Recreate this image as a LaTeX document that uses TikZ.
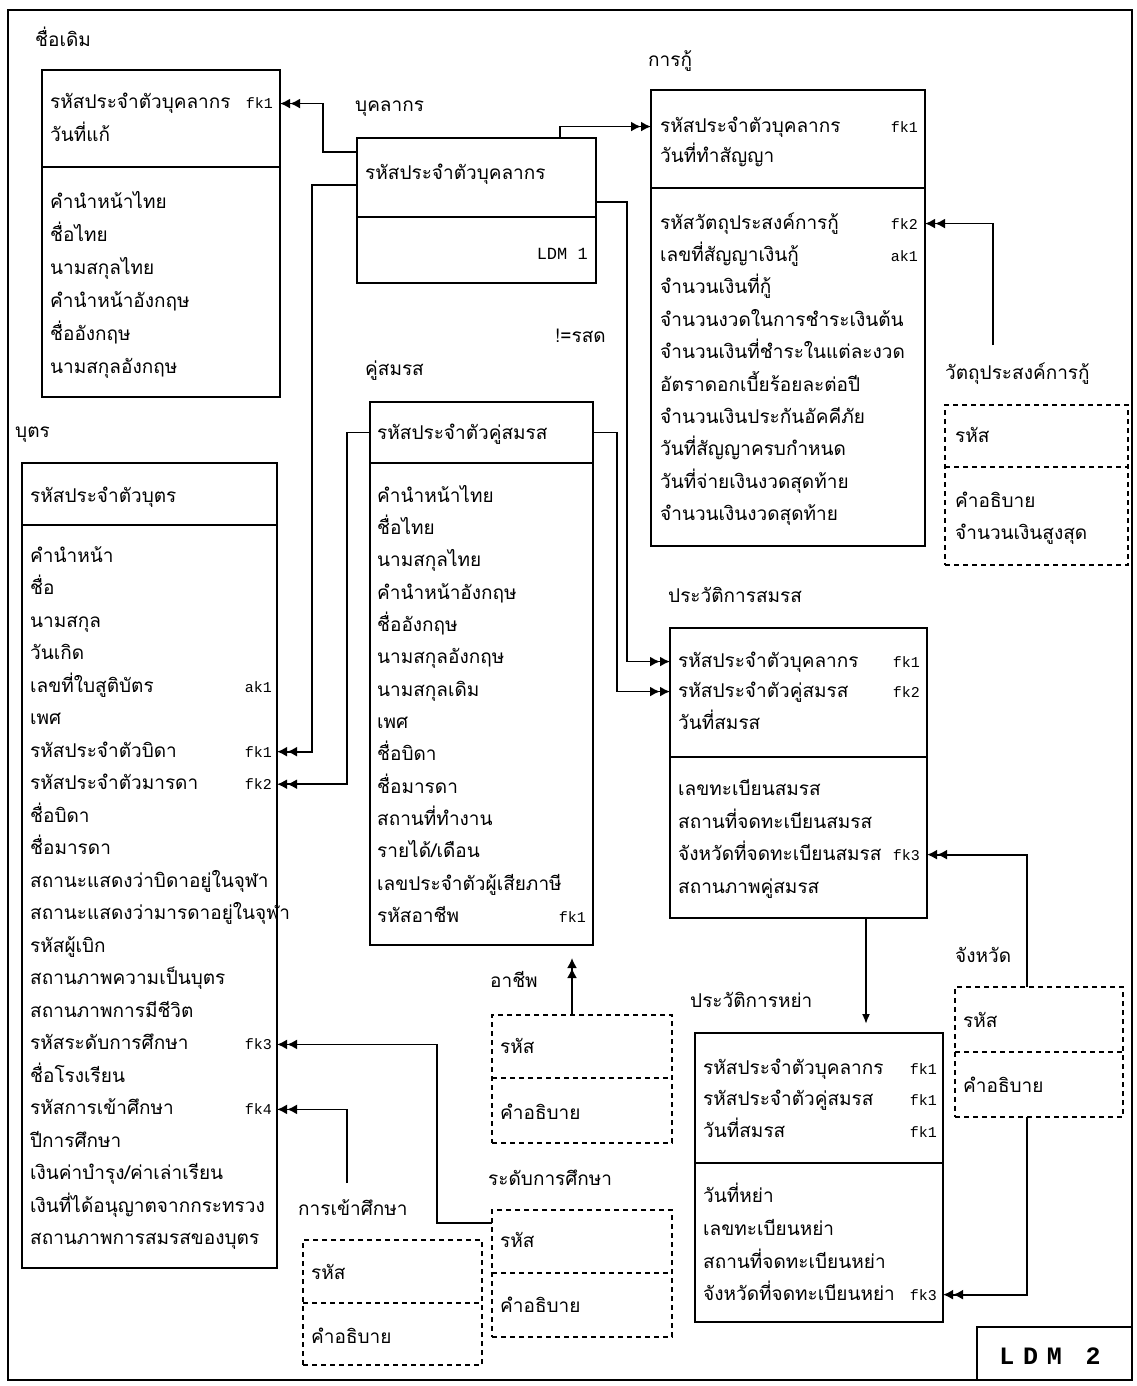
\documentclass[tikz,border=0pt]{standalone}
\usepackage{fontspec}
\newfontfamily\thai[Script=Thai]{Loma}
\newfontfamily\mono{Liberation Mono}
\newfontfamily\ldmfont[LetterSpace=35]{Liberation Mono}
\usetikzlibrary{arrows.meta,calc}
\tikzset{
 ebox/.style={draw, line width=1.9pt, inner sep=0pt, outer sep=0pt, anchor=north west},
 dashline/.style={dash pattern=on 5pt off 4pt, line width=1.5pt},
 dbox/.style={draw, dash pattern=on 5pt off 4pt, line width=1.5pt, inner sep=0pt, outer sep=0pt, anchor=north west},
 hbox/.style={inner sep=0pt, outer sep=0pt, anchor=north west},
 txt/.style={font=\thai\fontsize{19}{22}\selectfont, inner sep=0pt, anchor=base west},
 tag/.style={font=\mono\fontsize{15}{18}\selectfont, inner sep=0pt, anchor=base east},
 conn/.style={line width=1.8pt},
 dbl/.style={conn, -{Latex[length=10pt,width=10pt]Latex[length=10pt,width=10pt]}},
}
\begin{document}
\begin{tikzpicture}[x=1pt,y=-1pt]
\useasboundingbox (0,0) rectangle (1136,1386);
\node[ebox, minimum width=1124pt, minimum height=1370pt] (frame) at (8,10) {};

% ---------- ชื่อเดิม
\node[txt] (oldT) at (35,47) {ชื่อเดิม};
\node[ebox, minimum width=238pt, minimum height=97pt] (oldH) at (42,70) {};
\node[ebox, minimum width=238pt, minimum height=230pt] (oldB) at (42,167) {};
\node[txt] (old-h1) at (50,109) {รหัสประจำตัวบุคลากร};
\node[txt] (old-h2) at (50,142) {วันที่แก้};
\node[tag] (oldfk1) at (273,109) {fk1};
\foreach \t [count=\i from 0] in {คำนำหน้าไทย,ชื่อไทย,นามสกุลไทย,คำนำหน้าอังกฤษ,ชื่ออังกฤษ,นามสกุลอังกฤษ}
  {\node[txt] (old-\i) at (50,{208+33*\i}) {\t};}

% ---------- บุคลากร
\node[txt] (perT) at (355,112) {บุคลากร};
\node[ebox, minimum width=239pt, minimum height=79pt] (perH) at (357,138) {};
\node[ebox, minimum width=239pt, minimum height=66pt] (perB) at (357,217) {};
\node[txt] (per-h1) at (365,179) {รหัสประจำตัวบุคลากร};
\node[font=\mono\fontsize{17}{20}\selectfont, inner sep=0pt, anchor=base east] (ldm1) at (588,259) {LDM 1};
\node[txt] (note) at (555,342) {!=รสด};

% ---------- การกู้
\node[txt] (loanT) at (648,67) {การกู้};
\node[ebox, minimum width=274pt, minimum height=98pt] (loanH) at (651,90) {};
\node[ebox, minimum width=274pt, minimum height=358pt] (loanB) at (651,188) {};
\node[txt] (loan-h1) at (660,132) {รหัสประจำตัวบุคลากร};
\node[txt] (loan-h2) at (660,162) {วันที่ทำสัญญา};
\node[tag] (loanfk1) at (918,132) {fk1};
\foreach \t [count=\i from 0] in {รหัสวัตถุประสงค์การกู้,เลขที่สัญญาเงินกู้,จำนวนเงินที่กู้,จำนวนงวดในการชำระเงินต้น,จำนวนเงินที่ชำระในแต่ละงวด,อัตราดอกเบี้ยร้อยละต่อปี,จำนวนเงินประกันอัคคีภัย,วันที่สัญญาครบกำหนด,วันที่จ่ายเงินงวดสุดท้าย,จำนวนเงินงวดสุดท้าย}
  {\node[txt] (loan-\i) at (660,{229+32.4*\i}) {\t};}
\node[tag] (loanfk2) at (918,229) {fk2};
\node[tag] (loanak1) at (918,261.4) {ak1};

% ---------- วัตถุประสงค์การกู้
\node[txt] (purpT) at (945,379) {วัตถุประสงค์การกู้};
\node[dbox, minimum width=183pt, minimum height=160pt] (purpBox) at (945,405) {};
\node[hbox, minimum width=183pt, minimum height=62pt] (purpH) at (945,405) {};
\draw[dashline] (purpH.south west) -- (purpH.south east);
\node[txt] (purp-1) at (955,442) {รหัส};
\node[txt] (purp-2) at (955,507) {คำอธิบาย};
\node[txt] (purp-3) at (955,539) {จำนวนเงินสูงสุด};

% ---------- บุตร
\node[txt] (chT) at (15,437) {บุตร};
\node[ebox, minimum width=255pt, minimum height=62pt] (childH) at (22,463) {};
\node[ebox, minimum width=255pt, minimum height=743pt] (childB) at (22,525) {};
\node[txt] (ch-h1) at (30,502) {รหัสประจำตัวบุตร};
\foreach \t [count=\i from 0] in {คำนำหน้า,ชื่อ,นามสกุล,วันเกิด,เลขที่ใบสูติบัตร,เพศ,รหัสประจำตัวบิดา,รหัสประจำตัวมารดา,ชื่อบิดา,ชื่อมารดา,สถานะแสดงว่าบิดาอยู่ในจุฬา,สถานะแสดงว่ามารดาอยู่ในจุฬา,รหัสผู้เบิก,สถานภาพความเป็นบุตร,สถานภาพการมีชีวิต,รหัสระดับการศึกษา,ชื่อโรงเรียน,รหัสการเข้าศึกษา,ปีการศึกษา,{เงินค่าบำรุง/ค่าเล่าเรียน},เงินที่ได้อนุญาตจากกระทรวง,สถานภาพการสมรสของบุตร}
  {\node[txt] (ch-\i) at (30,{562+32.52*\i}) {\t};}
\node[tag] (cak1) at (272,{562+32.52*4}) {ak1};
\node[tag] (cfk1) at (272,{562+32.52*6}) {fk1};
\node[tag] (cfk2) at (272,{562+32.52*7}) {fk2};
\node[tag] (cfk3) at (272,{562+32.52*15}) {fk3};
\node[tag] (cfk4) at (272,{562+32.52*17}) {fk4};

% ---------- คู่สมรส
\node[txt] (spT) at (365,375) {คู่สมรส};
\node[ebox, minimum width=223pt, minimum height=61pt] (spH) at (370,402) {};
\node[ebox, minimum width=223pt, minimum height=482pt] (spB) at (370,463) {};
\node[txt] (sp-h1) at (377,439) {รหัสประจำตัวคู่สมรส};
\foreach \t [count=\i from 0] in {คำนำหน้าไทย,ชื่อไทย,นามสกุลไทย,คำนำหน้าอังกฤษ,ชื่ออังกฤษ,นามสกุลอังกฤษ,นามสกุลเดิม,เพศ,ชื่อบิดา,ชื่อมารดา,สถานที่ทำงาน,{รายได้/เดือน},เลขประจำตัวผู้เสียภาษี,รหัสอาชีพ}
  {\node[txt] (sp-\i) at (377,{502+32.36*\i}) {\t};}
\node[tag] (spfk1) at (586,{502+32.36*13}) {fk1};

% ---------- ประวัติการสมรส
\node[txt] (marT) at (668,602) {ประวัติการสมรส};
\node[ebox, minimum width=257pt, minimum height=129pt] (marH) at (670,628) {};
\node[ebox, minimum width=257pt, minimum height=161pt] (marB) at (670,757) {};
\node[txt] (mar-h1) at (678,667) {รหัสประจำตัวบุคลากร};
\node[txt] (mar-h2) at (678,697) {รหัสประจำตัวคู่สมรส};
\node[txt] (mar-h3) at (678,729) {วันที่สมรส};
\node[tag] (marfk1) at (920,667) {fk1};
\node[tag] (marfk2) at (920,697) {fk2};
\node[txt] (mar-1) at (678,795) {เลขทะเบียนสมรส};
\node[txt] (mar-2) at (678,828) {สถานที่จดทะเบียนสมรส};
\node[txt] (mar-3) at (678,860) {จังหวัดที่จดทะเบียนสมรส};
\node[txt] (mar-4) at (678,893) {สถานภาพคู่สมรส};
\node[tag] (marfk3) at (920,860) {fk3};

% ---------- ประวัติการหย่า
\node[txt] (divT) at (690,1007) {ประวัติการหย่า};
\node[ebox, minimum width=248pt, minimum height=130pt] (divH) at (695,1033) {};
\node[ebox, minimum width=248pt, minimum height=159pt] (divB) at (695,1163) {};
\node[txt] (div-h1) at (703,1074) {รหัสประจำตัวบุคลากร};
\node[txt] (div-h2) at (703,1105) {รหัสประจำตัวคู่สมรส};
\node[txt] (div-h3) at (703,1137) {วันที่สมรส};
\node[tag] (divfk1a) at (937,1074) {fk1};
\node[tag] (divfk1b) at (937,1105) {fk1};
\node[tag] (divfk1c) at (937,1137) {fk1};
\node[txt] (div-1) at (703,1202) {วันที่หย่า};
\node[txt] (div-2) at (703,1235) {เลขทะเบียนหย่า};
\node[txt] (div-3) at (703,1268) {สถานที่จดทะเบียนหย่า};
\node[txt] (div-4) at (703,1300) {จังหวัดที่จดทะเบียนหย่า};
\node[tag] (divfk3) at (937,1300) {fk3};

% ---------- จังหวัด
\node[txt] (provT) at (955,962) {จังหวัด};
\node[dbox, minimum width=168pt, minimum height=130pt] (provBox) at (955,987) {};
\node[hbox, minimum width=168pt, minimum height=65pt] (provH) at (955,987) {};
\draw[dashline] (provH.south west) -- (provH.south east);
\node[txt] (prov-1) at (963,1027) {รหัส};
\node[txt] (prov-2) at (963,1092) {คำอธิบาย};

% ---------- อาชีพ
\node[txt] (occT) at (490,987) {อาชีพ};
\node[dbox, minimum width=180pt, minimum height=128pt] (occBox) at (492,1015) {};
\node[hbox, minimum width=180pt, minimum height=63pt] (occH) at (492,1015) {};
\draw[dashline] (occH.south west) -- (occH.south east);
\node[txt] (occ-1) at (500,1053) {รหัส};
\node[txt] (occ-2) at (500,1119) {คำอธิบาย};

% ---------- ระดับการศึกษา
\node[txt] (eduT) at (488,1185) {ระดับการศึกษา};
\node[dbox, minimum width=180pt, minimum height=127pt] (eduBox) at (492,1210) {};
\node[hbox, minimum width=180pt, minimum height=63pt] (eduH) at (492,1210) {};
\draw[dashline] (eduH.south west) -- (eduH.south east);
\node[txt] (edu-1) at (500,1247) {รหัส};
\node[txt] (edu-2) at (500,1312) {คำอธิบาย};

% ---------- การเข้าศึกษา
\node[txt] (enrT) at (298,1215) {การเข้าศึกษา};
\node[dbox, minimum width=179pt, minimum height=125pt] (enrBox) at (303,1240) {};
\node[hbox, minimum width=179pt, minimum height=63pt] (enrH) at (303,1240) {};
\draw[dashline] (enrH.south west) -- (enrH.south east);
\node[txt] (enr-1) at (311,1279) {รหัส};
\node[txt] (enr-2) at (311,1343) {คำอธิบาย};

% ---------- LDM 2
\node[ebox, minimum width=155pt, minimum height=53pt] (ldm2box) at (977,1327) {};
\node[font=\ldmfont\bfseries\fontsize{25}{27}\selectfont, inner sep=0pt] (ldm2) at (1050,1356) {LDM 2};

% ---------- routing coordinates
\coordinate (c1) at (323,0);
\coordinate (c2) at (560,0);
\coordinate (c3) at (312,0);
\coordinate (c4) at (627,0);
\coordinate (c5) at (347,0);
\coordinate (c6) at (617,0);
\coordinate (c7) at (1027,0);
\coordinate (c8) at (866,0);
\coordinate (c9) at (437,0);
\coordinate (c10) at (572,0);
\coordinate (pe) at (993,345);
\coordinate (oc) at (572,958);
\coordinate (ef) at (347,1183);

% ---------- connectors
\draw[dbl] ([yshift=-14pt]perH.north west) -| (c1 |- oldfk1) -- (oldH.east |- oldfk1);
\draw[dbl] (c2 |- perH.north) |- (loanH.west |- loanfk1);
\draw[dbl] ([yshift=-47pt]perH.north west) -| (c3 |- cfk1) -- (childB.east |- cfk1);
\draw[dbl] ([yshift=-64pt]perH.north east) -| (c4 |- marfk1) -- (marH.west |- marfk1);
\draw[dbl] (spH.west) -| (c5 |- cfk2) -- (childB.east |- cfk2);
\draw[dbl] (spH.east) -| (c6 |- marfk2) -- (marH.west |- marfk2);
\draw[dbl] (pe) |- (loanB.east |- loanfk2);
\draw[dbl] (c7 |- provBox.north) |- (marB.east |- marfk3);
\draw[dbl] (c7 |- provBox.south) |- (divB.east |- divfk3);
\draw[conn, -{Latex[length=10pt,width=8pt]}, shorten >=9pt] (c8 |- marB.south) -- (c8 |- divH.north);
\draw[dbl] (occBox.north -| c10) -- (oc);
\draw[dbl] ([yshift=-13pt]eduBox.north west) -| (c9 |- cfk3) -- (childB.east |- cfk3);
\draw[dbl] (ef) |- (childB.east |- cfk4);
\end{tikzpicture}
\end{document}
